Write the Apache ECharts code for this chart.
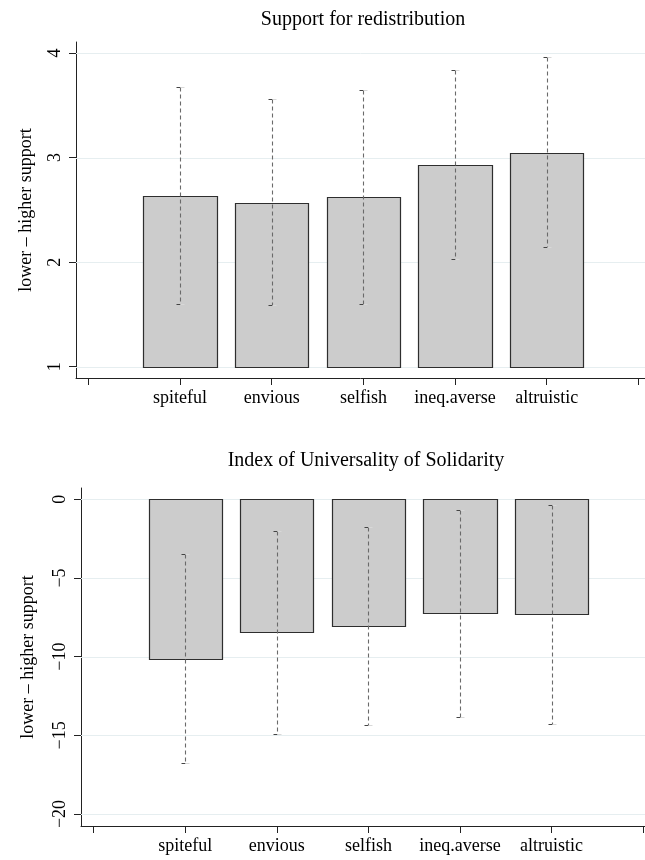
<!DOCTYPE html>
<html>
<head>
<meta charset="utf-8">
<script src="https://cdn.jsdelivr.net/npm/echarts@6/dist/echarts.min.js"></script>
<style>
  html, body { margin: 0; padding: 0; background: #fff; }
  #chart { width: 645px; height: 860px; }
</style>
</head>
<body>
<div id="chart"></div>
<script>
// Preference types shown on the horizontal axis
const categories = ['spiteful', 'envious', 'selfish', 'ineq.averse', 'altruistic'];

// Support for redistribution: mean and mean ± 1 sd
const redistMean = [2.63, 2.57, 2.62, 2.93, 3.04];
const redistLow  = [1.60, 1.59, 1.60, 2.03, 2.14];
const redistHigh = [3.67, 3.56, 3.65, 3.84, 3.96];
const redistBase = 1;
const redistTicks = [1, 2, 3, 4];

// Index of Universality of Solidarity: mean and mean ± 1 sd
const solidMean = [-10.13, -8.44, -8.04, -7.25, -7.31];
const solidLow  = [-16.78, -14.92, -14.37, -13.86, -14.28];
const solidHigh = [-3.50, -2.00, -1.76, -0.66, -0.38];
const solidBase = 0;
const solidTicks = [0, -5, -10, -15, -20];

// x ticks: one empty slot on each side of the five categories
const xTicks = [0, 1, 2, 3, 4, 5, 6];
const xLabelTicks = categories.map((_, i) => i + 1);

const FONT = '"Liberation Serif", "Times New Roman", serif';
const AXIS = '#222';
const GRID = '#e6eef0';

const chart = echarts.init(document.getElementById('chart'), null, { renderer: 'canvas' });

const crisp = v => Math.round(v) + 0.5;

function barRenderer(base) {
  return function (params, api) {
    const x = api.value(0), v = api.value(1);
    const a = api.coord([x - 0.4, v]);
    const b = api.coord([x + 0.4, base]);
    const x0 = crisp(Math.min(a[0], b[0])), x1 = crisp(Math.max(a[0], b[0]));
    const y0 = crisp(Math.min(a[1], b[1])), y1 = crisp(Math.max(a[1], b[1]));
    return {
      type: 'rect',
      shape: { x: x0, y: y0, width: x1 - x0, height: y1 - y0 },
      style: { fill: '#cccccc', stroke: '#2e2e2e', lineWidth: 1.2 }
    };
  };
}

function errRenderer(params, api) {
  const x = api.value(0);
  const pLo = api.coord([x, api.value(1)]);
  const pHi = api.coord([x, api.value(2)]);
  const cx = crisp(pLo[0]);
  const yHi = crisp(pHi[1]), yLo = crisp(pLo[1]);
  const cap = y => [
    { type: 'line', shape: { x1: cx - 4, y1: y, x2: cx, y2: y }, style: { stroke: '#444', lineWidth: 1 } },
    { type: 'line', shape: { x1: cx, y1: y, x2: cx + 4, y2: y }, style: { stroke: '#d8d8d8', lineWidth: 1 } }
  ];
  return {
    type: 'group',
    children: [
      { type: 'line', shape: { x1: cx, y1: yHi, x2: cx, y2: yLo },
        style: { stroke: '#6a6a6a', lineWidth: 1.1, lineDash: [4, 3] } }
    ].concat(cap(yHi), cap(yLo))
  };
}

function gridRenderer(params, api) {
  const cs = params.coordSys;
  const y = crisp(api.coord([0, api.value(0)])[1]);
  return {
    type: 'line',
    shape: { x1: cs.x, y1: y, x2: cs.x + cs.width, y2: y },
    style: { stroke: GRID, lineWidth: 1 }
  };
}

function xAxisDef(gridIndex, min, max) {
  return {
    type: 'value', gridIndex, min, max,
    splitLine: { show: false },
    axisLine: { show: true, onZero: false, lineStyle: { color: AXIS, width: 1 } },
    axisTick: { show: true, length: 7, customValues: xTicks, lineStyle: { color: AXIS } },
    axisLabel: {
      show: true, customValues: xLabelTicks, margin: 11,
      fontFamily: FONT, fontSize: 18, color: '#000',
      formatter: v => categories[Math.round(v) - 1] || ''
    }
  };
}

function yAxisDef(gridIndex, min, max, ticks, nameGap) {
  return {
    type: 'value', gridIndex, min, max,
    name: 'lower \u2013 higher support',
    nameLocation: 'middle', nameGap, nameRotate: 90,
    nameTextStyle: { fontFamily: FONT, fontSize: 18, color: '#000' },
    splitLine: { show: false },
    axisLine: { show: true, onZero: false, lineStyle: { color: AXIS, width: 1 } },
    axisTick: { show: true, length: 7, customValues: ticks, lineStyle: { color: AXIS } },
    axisLabel: {
      show: true, customValues: ticks, rotate: 90, margin: 12,
      fontFamily: FONT, fontSize: 18, color: '#000',
      formatter: v => String(v).replace('-', '\u2212')
    }
  };
}

const option = {
  animation: false,
  backgroundColor: '#fff',
  title: [
    { text: 'Support for redistribution', left: 363, top: 10, textAlign: 'center', padding: 0,
      textStyle: { fontFamily: FONT, fontSize: 20, fontWeight: 'normal', color: '#000' } },
    { text: 'Index of Universality of Solidarity', left: 366, top: 451, textAlign: 'center', padding: 0,
      textStyle: { fontFamily: FONT, fontSize: 20, fontWeight: 'normal', color: '#000' } }
  ],
  grid: [
    { left: 76, right: 0, top: 42, bottom: 482 },
    { left: 81, right: 0, top: 488, bottom: 34 }
  ],
  xAxis: [
    xAxisDef(0, -0.135, 6.072),
    xAxisDef(1, -0.1376, 6.02)
  ],
  yAxis: [
    yAxisDef(0, 0.892, 4.105, redistTicks, 41),
    yAxisDef(1, -20.763, 0.718, solidTicks, 44)
  ],
  series: [
    { type: 'custom', xAxisIndex: 0, yAxisIndex: 0, z: 1, silent: true,
      renderItem: gridRenderer, data: redistTicks.map(v => [v]), encode: { y: 0 } },
    { type: 'custom', xAxisIndex: 0, yAxisIndex: 0, z: 2, silent: true,
      renderItem: barRenderer(redistBase),
      data: redistMean.map((v, i) => [i + 1, v]) },
    { type: 'custom', xAxisIndex: 0, yAxisIndex: 0, z: 3, silent: true,
      renderItem: errRenderer,
      data: redistMean.map((_, i) => [i + 1, redistLow[i], redistHigh[i]]) },

    { type: 'custom', xAxisIndex: 1, yAxisIndex: 1, z: 1, silent: true,
      renderItem: gridRenderer, data: solidTicks.map(v => [v]), encode: { y: 0 } },
    { type: 'custom', xAxisIndex: 1, yAxisIndex: 1, z: 2, silent: true,
      renderItem: barRenderer(solidBase),
      data: solidMean.map((v, i) => [i + 1, v]) },
    { type: 'custom', xAxisIndex: 1, yAxisIndex: 1, z: 3, silent: true,
      renderItem: errRenderer,
      data: solidMean.map((_, i) => [i + 1, solidLow[i], solidHigh[i]]) }
  ]
};

chart.setOption(option);
</script>
</body>
</html>
